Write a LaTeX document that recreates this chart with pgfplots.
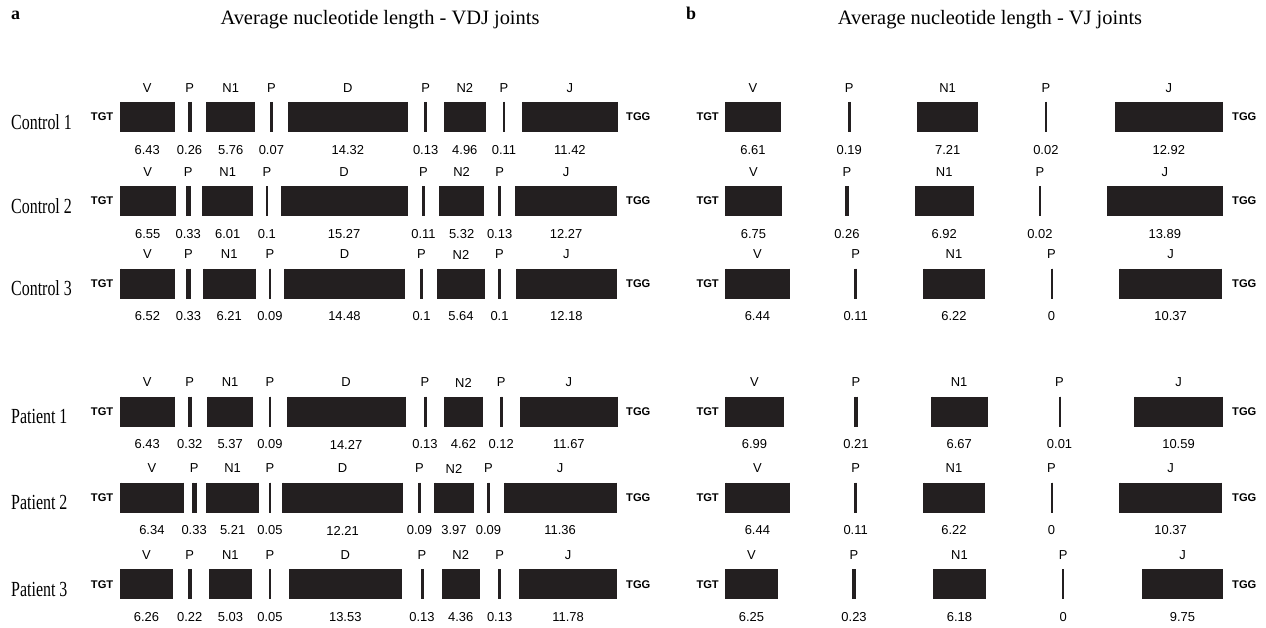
\documentclass[border=0pt]{standalone}
\usepackage{graphicx}
\usepackage{pgfplots}
\pgfplotsset{compat=1.18}
\usepackage{pgfplotstable}
\usepackage{fontspec}
\setmainfont{Liberation Serif}
\setsansfont{Liberation Sans}
\definecolor{seg}{HTML}{231F20}

% Segment tables: left edge of the segment on the canvas (x0), mean length in
% nucleotides (v), drawing scale of the row in canvas units per nucleotide (k),
% row centre (y) and segment name (lab).
\pgfplotstableread{
x0     v     k   y     lab
120.8  6.43  8.2 117   V
188.5  0.26  8.2 117   P
207.1  5.76  8.2 117   N1
271.1  0.07  8.2 117   P
289.1  14.32 8.2 117   D
425.1  0.13  8.2 117   P
444.5  4.96  8.2 117   N2
503.5  0.11  8.2 117   P
523.1  11.42 8.2 117   J
120.8  6.55  8.2 201   V
186.8  0.33  8.2 201   P
203.1  6.01  8.2 201   N1
266.5  0.1   8.2 201   P
281.5  15.27 8.2 201   D
423.1  0.11  8.2 201   P
439.8  5.32  8.2 201   N2
499.1  0.13  8.2 201   P
515.8  12.27 8.2 201   J
120.8  6.52  8.2 283.5 V
187.1  0.33  8.2 283.5 P
203.8  6.21  8.2 283.5 N1
269.5  0.09  8.2 283.5 P
285.1  14.48 8.2 283.5 D
421.1  0.1   8.2 283.5 P
437.8  5.64  8.2 283.5 N2
499.1  0.1   8.2 283.5 P
516.5  12.18 8.2 283.5 J
120.8  6.43  8.2 411.5 V
188.5  0.32  8.2 411.5 P
208.1  5.37  8.2 411.5 N1
269.5  0.09  8.2 411.5 P
287.5  14.27 8.2 411.5 D
424.5  0.13  8.2 411.5 P
444.5  4.62  8.2 411.5 N2
500.8  0.12  8.2 411.5 P
521.1  11.67 8.2 411.5 J
120.8  6.34  9.8 497.5 V
192.5  0.33  9.8 497.5 P
207.1  5.21  9.8 497.5 N1
269.8  0.05  9.8 497.5 P
282.8  12.21 9.8 497.5 D
419.1  0.09  9.8 497.5 P
434.5  3.97  9.8 497.5 N2
488.1  0.09  9.8 497.5 P
504.5  11.36 9.8 497.5 J
120.8  6.26  8.2 584.3 V
188.8  0.22  8.2 584.3 P
209.8  5.03  8.2 584.3 N1
269.8  0.05  8.2 584.3 P
289.8  13.53 8.2 584.3 D
421.5  0.13  8.2 584.3 P
442.8  4.36  8.2 584.3 N2
499.1  0.13  8.2 584.3 P
519.8  11.78 8.2 584.3 J
}\vdj

\pgfplotstableread{
x0     v     k   y     lab
725.8  6.61  8.2 117   V
848.5  0.19  8.2 117   P
918.1  7.21  8.2 117   N1
1045.8 0.02  8.2 117   P
1115.8 12.92 8.2 117   J
725.8  6.75  8.2 201   V
845.8  0.26  8.2 201   P
915.8  6.92  8.2 201   N1
1039.8 0.02  8.2 201   P
1107.8 13.89 8.2 201   J
725.8  6.44  9.8 283.5 V
855.1  0.11  9.8 283.5 P
923.5  6.22  9.8 283.5 N1
1051.5 0     9.8 283.5 P
1119.8 10.37 9.8 283.5 J
725.8  6.99  8.2 411.5 V
855.1  0.21  8.2 411.5 P
931.8  6.67  8.2 411.5 N1
1059.5 0.01  8.2 411.5 P
1135.1 10.59 8.2 411.5 J
725.8  6.44  9.8 497.5 V
855.1  0.11  9.8 497.5 P
923.5  6.22  9.8 497.5 N1
1051.5 0     9.8 497.5 P
1119.8 10.37 9.8 497.5 J
725.8  6.25  8.2 584.3 V
853.1  0.23  8.2 584.3 P
934.1  6.18  8.2 584.3 N1
1063.1 0     8.2 584.3 P
1142.5 9.75  8.2 584.3 J
}\vj

\newcommand\seglabfont{\sffamily\fontsize{13}{15}\selectfont}
\newcommand\codonfont{\sffamily\bfseries\fontsize{11.2}{12}\selectfont}
\newcommand\rowfont{\rmfamily\fontsize{16}{18}\selectfont}
\newcommand\titlefont{\rmfamily\fontsize{20.5}{24}\selectfont}
% row names are set somewhat tall and narrow
\newcommand\rowname[1]{\scalebox{1}[1.35]{#1}}

\pgfplotsset{
  % filled segment: a thick error bar from x0 spanning v*k, with edge strokes
  segfill/.style={only marks, mark=|, mark size=15bp,
    mark options={line width=2bp, color=seg, solid},
    error bars/.cd, x dir=plus, x explicit, error mark=none,
    error bar style={line width=30bp, draw=seg}},
  segedge/.style={only marks, mark=|, mark size=15bp,
    mark options={line width=2bp, color=seg, solid}},
  seglab/.style={only marks, mark=none, nodes near coords,
    point meta=explicit symbolic,
    every node near coord/.style={anchor=center, yshift=#1, font=\seglabfont, text=black, inner sep=0pt}},
}

\begin{document}
\begin{tikzpicture}
\begin{axis}[
  width=1266bp, height=628bp, scale only axis,
  xmin=0, xmax=1266, ymin=0, ymax=628, y dir=reverse,
  hide axis, clip=false,
]
\path[draw=none] (rel axis cs:0,0) rectangle (rel axis cs:1,1);

% VDJ panel
\addplot[segfill] table[x=x0, y=y, x error plus expr=\thisrow{v}*\thisrow{k}] {\vdj};
\addplot[segedge] table[x expr=\thisrow{x0}+\thisrow{v}*\thisrow{k}, y=y] {\vdj};
\addplot[seglab=29bp] table[x expr=\thisrow{x0}+0.5*\thisrow{v}*\thisrow{k}, y=y, meta=lab] {\vdj};
\addplot[seglab=-33bp] table[x expr=\thisrow{x0}+0.5*\thisrow{v}*\thisrow{k}, y=y, meta=v] {\vdj};

% VJ panel
\addplot[segfill] table[x=x0, y=y, x error plus expr=\thisrow{v}*\thisrow{k}] {\vj};
\addplot[segedge] table[x expr=\thisrow{x0}+\thisrow{v}*\thisrow{k}, y=y] {\vj};
\addplot[seglab=29bp] table[x expr=\thisrow{x0}+0.5*\thisrow{v}*\thisrow{k}, y=y, meta=lab] {\vj};
\addplot[seglab=-33bp] table[x expr=\thisrow{x0}+0.5*\thisrow{v}*\thisrow{k}, y=y, meta=v] {\vj};

% flanking codons
\pgfplotsinvokeforeach{117,201,283.5,411.5,497.5,584.3}{
  \node[anchor=east, font=\codonfont, inner sep=0pt] at (axis cs:113.5,#1) {TGT};
  \node[anchor=west, font=\codonfont, inner sep=0pt] at (axis cs:626,#1) {TGG};
  \node[anchor=east, font=\codonfont, inner sep=0pt] at (axis cs:719,#1) {TGT};
  \node[anchor=west, font=\codonfont, inner sep=0pt] at (axis cs:1232,#1) {TGG};
}

% row names
\node[anchor=base west, font=\rowfont, inner sep=0pt] at (axis cs:11,129) {\rowname{Control 1}};
\node[anchor=base west, font=\rowfont, inner sep=0pt] at (axis cs:11,213) {\rowname{Control 2}};
\node[anchor=base west, font=\rowfont, inner sep=0pt] at (axis cs:11,295.5) {\rowname{Control 3}};
\node[anchor=base west, font=\rowfont, inner sep=0pt] at (axis cs:11,423.5) {\rowname{Patient 1}};
\node[anchor=base west, font=\rowfont, inner sep=0pt] at (axis cs:11,509.5) {\rowname{Patient 2}};
\node[anchor=base west, font=\rowfont, inner sep=0pt] at (axis cs:11,596.3) {\rowname{Patient 3}};

% panel titles
\node[anchor=base west, font=\rmfamily\bfseries\fontsize{18}{20}\selectfont, inner sep=0pt] at (axis cs:11,19.5) {a};
\node[anchor=base west, font=\rmfamily\bfseries\fontsize{18}{20}\selectfont, inner sep=0pt] at (axis cs:686,19.5) {b};
\node[anchor=base, font=\titlefont, inner sep=0pt] at (axis cs:380,25) {Average nucleotide length - VDJ joints};
\node[anchor=base, font=\titlefont, inner sep=0pt] at (axis cs:990,25) {Average nucleotide length - VJ joints};
\end{axis}
\end{tikzpicture}
\end{document}
